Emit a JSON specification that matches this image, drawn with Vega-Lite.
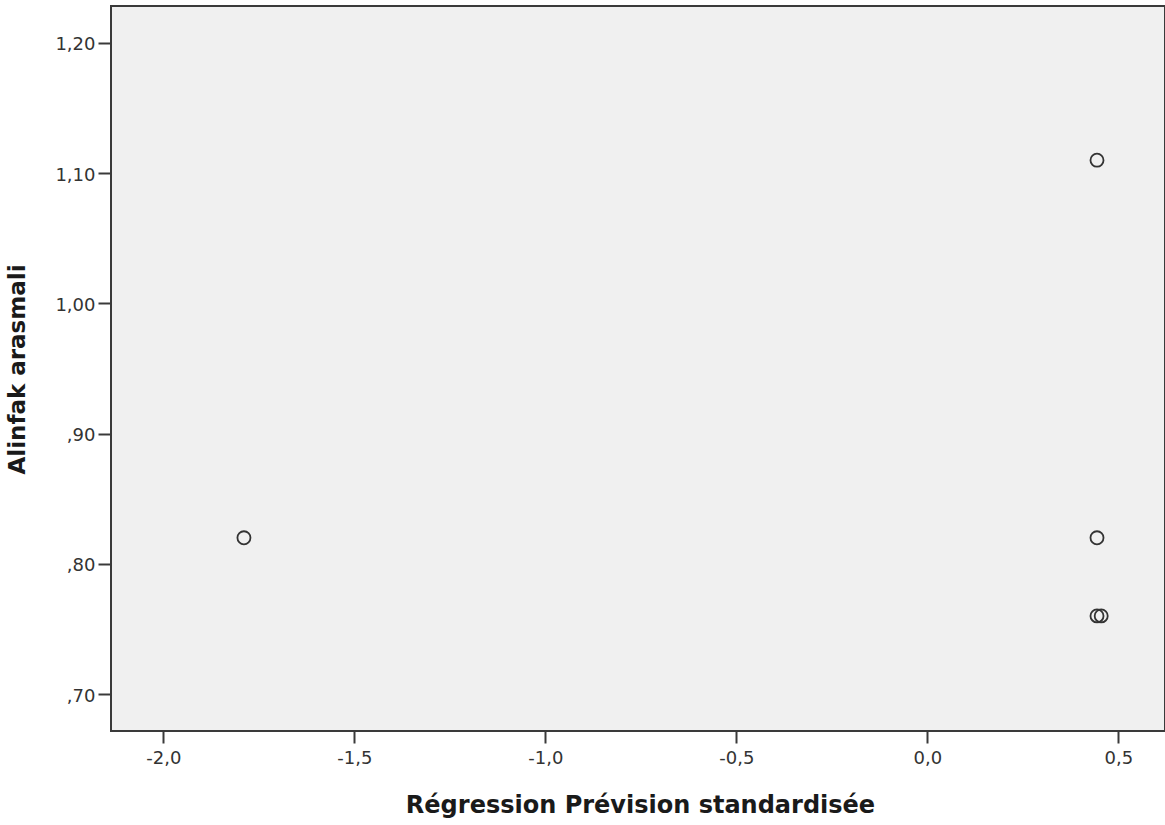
{
  "$schema": "https://vega.github.io/schema/vega-lite/v6.json",
  "width": 1054,
  "height": 725,
  "autosize": {"type": "none"},
  "padding": {"left": 111, "top": 6, "right": 0, "bottom": 94},
  "background": "white",
  "config": {
    "view": {"fill": "#f0f0f0", "stroke": "#3a3a3a", "strokeWidth": 2},
    "font": "DejaVu Sans",
    "axis": {
      "domain": false,
      "grid": false,
      "tickColor": "#3a3a3a",
      "tickWidth": 2,
      "labelColor": "#333333",
      "labelFont": "DejaVu Sans",
      "labelFontSize": 18,
      "titleFont": "DejaVu Sans",
      "titleFontWeight": "bold",
      "titleColor": "#1a1a1a"
    }
  },
  "data": {
    "values": [
      {"pred": -1.789, "val": 0.82},
      {"pred": 0.444, "val": 1.11},
      {"pred": 0.444, "val": 0.82},
      {"pred": 0.444, "val": 0.76},
      {"pred": 0.455, "val": 0.76}
    ]
  },
  "mark": {"type": "point", "shape": "circle", "filled": false, "stroke": "#333333", "strokeWidth": 1.8, "size": 170, "opacity": 1},
  "encoding": {
    "x": {
      "field": "pred",
      "type": "quantitative",
      "scale": {"domain": [-2.137, 0.622], "nice": false, "zero": false},
      "axis": {
        "title": "Régression Prévision standardisée",
        "titleFontSize": 24,
        "values": [-2, -1.5, -1, -0.5, 0, 0.5],
        "labelExpr": "replace(replace(format(datum.value, '.1f'), '.', ','), '−', '-')",
        "tickSize": 12,
        "labelPadding": 6,
        "titleX": 529,
        "titleY": 81,
        "titleBaseline": "alphabetic",
        "titleAnchor": "middle"
      }
    },
    "y": {
      "field": "val",
      "type": "quantitative",
      "scale": {"domain": [0.6716, 1.2284], "nice": false, "zero": false},
      "axis": {
        "title": "Alinfak arasmali",
        "titleFontSize": 23,
        "values": [0.7, 0.8, 0.9, 1.0, 1.1, 1.2],
        "labelExpr": "datum.value < 1 ? replace(format(datum.value, '.2f'), '0.', ',') : replace(format(datum.value, '.2f'), '.', ',')",
        "tickSize": 13,
        "labelPadding": 3,
        "labelOffset": 2,
        "titleX": -87,
        "titleY": 363,
        "titleAngle": -90,
        "titleAlign": "center",
        "titleBaseline": "alphabetic"
      }
    }
  }
}
